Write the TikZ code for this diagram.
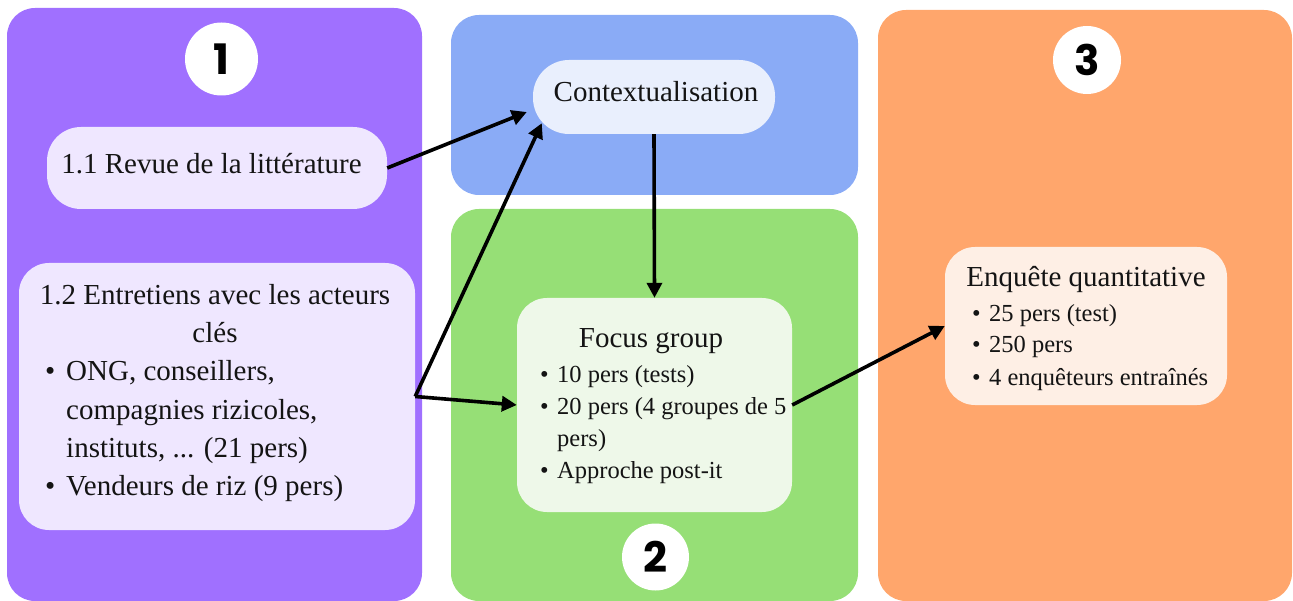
\documentclass[tikz,border=0pt]{standalone}
\usepackage{fontspec}
\setmainfont{Liberation Serif}
\newfontfamily\numfont{Poppins}
\usetikzlibrary{arrows.meta,calc}
\definecolor{cpurple}{RGB}{160,112,255}
\definecolor{cblue}{RGB}{138,171,246}
\definecolor{cgreen}{RGB}{150,223,118}
\definecolor{corange}{RGB}{255,166,108}
\definecolor{lpurple}{RGB}{239,231,255}
\definecolor{lblue}{RGB}{233,239,253}
\definecolor{lgreen}{RGB}{238,248,233}
\definecolor{lorange}{RGB}{254,239,229}
\definecolor{ink}{RGB}{20,20,20}
\begin{document}
\begin{tikzpicture}[x=1pt,y=-1pt,
  panel/.style={rounded corners=28pt},
  box/.style={rectangle, rounded corners=30pt, inner sep=0pt, draw=none},
  big/.style={font=\fontsize{29}{38}\selectfont, inner sep=0pt, text=ink},
  small/.style={font=\fontsize{24.5}{31}\selectfont, inner sep=0pt, text=ink},
  numcirc/.style={circle, fill=white, inner sep=0pt, font=\numfont\bfseries\fontsize{42}{42}\selectfont},
  conn/.style={line width=3.6pt, -{Triangle[length=15pt,width=15pt]}, black}
]
\useasboundingbox (0,0) rectangle (1293,601);
% panels
\fill[cpurple, panel] (7,8) rectangle (422,601);
\fill[cblue, panel] (451,15) rectangle (858,195);
\fill[cgreen, panel] (451,209) rectangle (858,601);
\fill[corange, panel] (878,10) rectangle (1292,601);
% number circles
\node[numcirc, minimum size=73pt] (n1) at (221.5,59) {1};
\node[numcirc, minimum size=67pt] (n2) at (655.5,557) {2};
\node[numcirc, minimum size=68pt] (n3) at (1087,60) {3};
% boxes
\node[box, fill=lpurple, minimum width=340pt, minimum height=82pt, rounded corners=34pt] (b11) at (217,168) {};
\node[box, fill=lpurple, minimum width=396pt, minimum height=267pt] (b12) at (217,396.5) {};
\node[box, fill=lblue, minimum width=242pt, minimum height=74pt, rounded corners=36pt] (ctx) at (654,97) {};
\node[box, fill=lgreen, minimum width=275pt, minimum height=214pt] (fg) at (654.5,405) {};
\node[box, fill=lorange, minimum width=282pt, minimum height=158pt] (enq) at (1086,326) {};
% texts
\node[big, anchor=base] (t11) at (211.5,174) {1.1 Revue de la littérature};
\node[big, anchor=base] (tctx) at (656,102) {Contextualisation};
\node[big, anchor=base] (t12a) at (215,305) {1.2 Entretiens avec les acteurs};
\node[big, anchor=base] (t12b) at (215,343) {clés};
\node[big, anchor=base west] (t12c) at (45,381) {\makebox[21pt][l]{\textbullet}ONG, conseillers,};
\node[big, anchor=base west] (t12d) at (66,419) {compagnies rizicoles,};
\node[big, anchor=base west] (t12e) at (66,457) {instituts, ... (21 pers)};
\node[big, anchor=base west] (t12f) at (45,495) {\makebox[21pt][l]{\textbullet}Vendeurs de riz (9 pers)};
\node[big, anchor=base] (tfg) at (651,348) {Focus group};
\node[small, anchor=base west] (tfg1) at (540,383) {\makebox[17pt][l]{\textbullet}10 pers (tests)};
\node[small, anchor=base west] (tfg2) at (540,414) {\makebox[17pt][l]{\textbullet}20 pers (4 groupes de 5};
\node[small, anchor=base west] (tfg3) at (557,446) {pers)};
\node[small, anchor=base west] (tfg4) at (540,478) {\makebox[17pt][l]{\textbullet}Approche post-it};
\node[big, anchor=base] (tenq) at (1086,287) {Enquête quantitative};
\node[small, anchor=base west] (te1) at (972,322) {\makebox[17pt][l]{\textbullet}25 pers (test)};
\node[small, anchor=base west] (te2) at (972,353) {\makebox[17pt][l]{\textbullet}250 pers};
\node[small, anchor=base west] (te3) at (972,385) {\makebox[17pt][l]{\textbullet}4 enquêteurs entraînés};
% connectors
\draw[conn] (b11.east) -- ([shift={(-6,15)}]ctx.west);
\draw[conn] (b12.east) -- ([shift={(9,-11)}]ctx.south west);
\draw[conn] (b12.east) -- (fg.west);
\draw[conn] (ctx.south) -- (fg.north);
\draw[conn] (fg.east) -- (enq.west);
\end{tikzpicture}
\end{document}
